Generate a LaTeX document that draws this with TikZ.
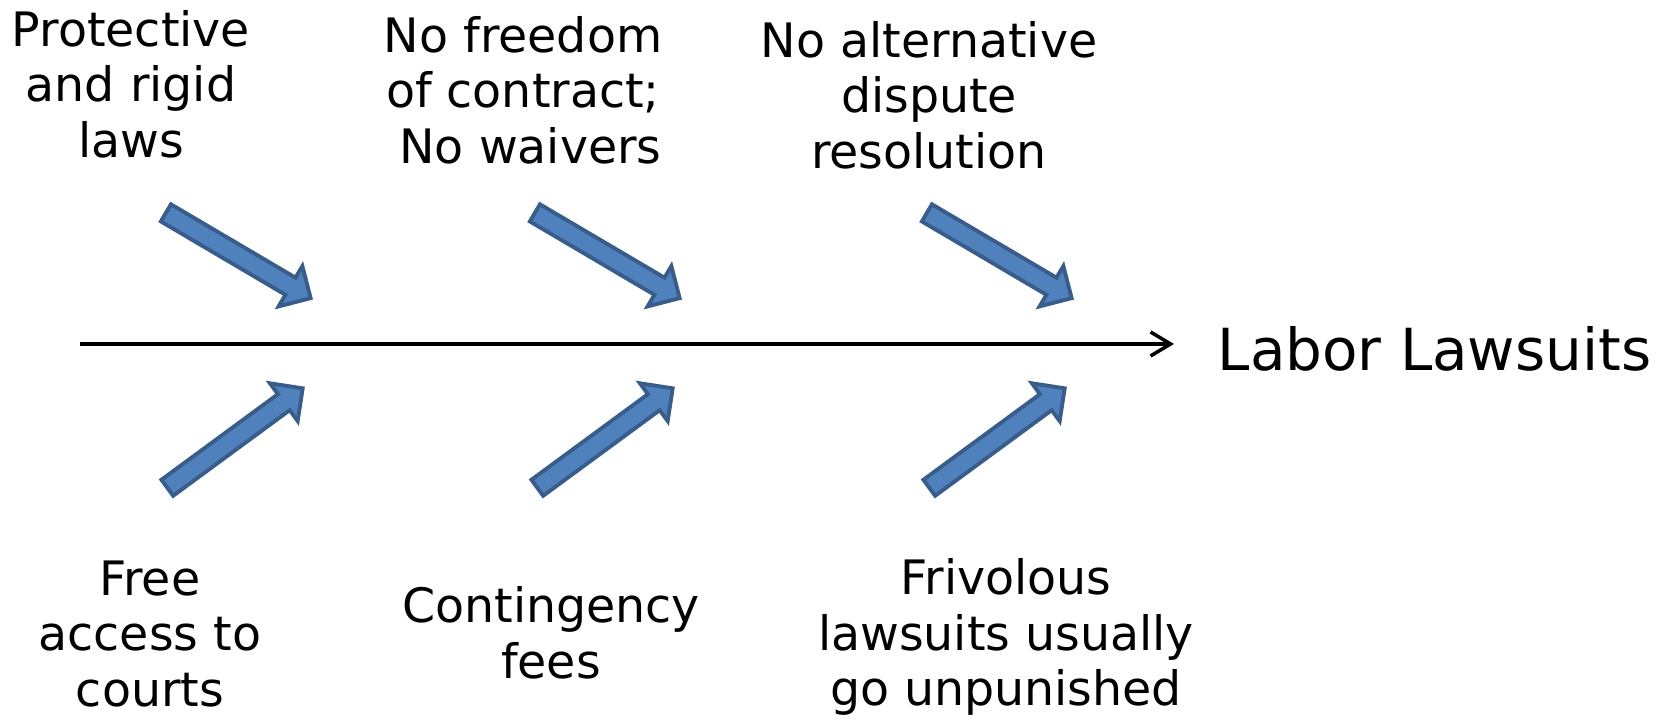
\documentclass[tikz,border=0pt]{standalone}
\usepackage{fontspec}
\setmainfont{DejaVu Sans}
\usetikzlibrary{shapes.arrows,arrows.meta}
\definecolor{barfill}{HTML}{4F81BD}
\definecolor{barline}{HTML}{385D8A}
\begin{document}
\begin{tikzpicture}[
  cause/.style={align=center, font=\fontsize{13.5}{15.8}\selectfont},
  barrow/.style={single arrow, draw=barline, fill=barfill, line width=1.1pt,
    minimum height=1.68cm, single arrow head extend=0.135cm, inner xsep=0pt, inner ysep=0.08cm}]
\useasboundingbox (0,0) rectangle (16.74,7.2);
\node[cause] (lab0) at (1.31,6.36) {Protective\\and rigid\\laws};
\node[cause] (lab1) at (5.23,6.30) {No freedom\\of contract;\\\ No waivers};
\node[cause] (lab2) at (9.29,6.25) {No alternative\\dispute\\resolution};
\node[cause] (lab3) at (1.50,0.86) {Free\\access to\\courts};
\node[cause] (lab4) at (5.51,0.87) {Contingency\\fees};
\node[cause] (lab5) at (10.06,0.83) {Frivolous\\lawsuits usually\\go unpunished};
\node[barrow, rotate=-30.5] (arr0) at (2.34,4.67) {};
\node[barrow, rotate=-30.5] (arr1) at (6.03,4.67) {};
\node[barrow, rotate=-30.5] (arr2) at (9.95,4.67) {};
\node[barrow, rotate=36.3] (arr3) at (2.31,2.79) {};
\node[barrow, rotate=36.3] (arr4) at (6.01,2.79) {};
\node[barrow, rotate=36.3] (arr5) at (9.93,2.79) {};
\coordinate (spine) at (0.80,3.76);
\node[anchor=west, inner sep=0pt, font=\fontsize{16.5}{19}\selectfont] (labor) at (12.17,3.71) {Labor Lawsuits};
\draw[line width=1pt, -{Straight Barb[length=2mm,width=2.4mm]}, shorten >=0.43cm] (spine) -- (spine -| labor.west);
\end{tikzpicture}
\end{document}
